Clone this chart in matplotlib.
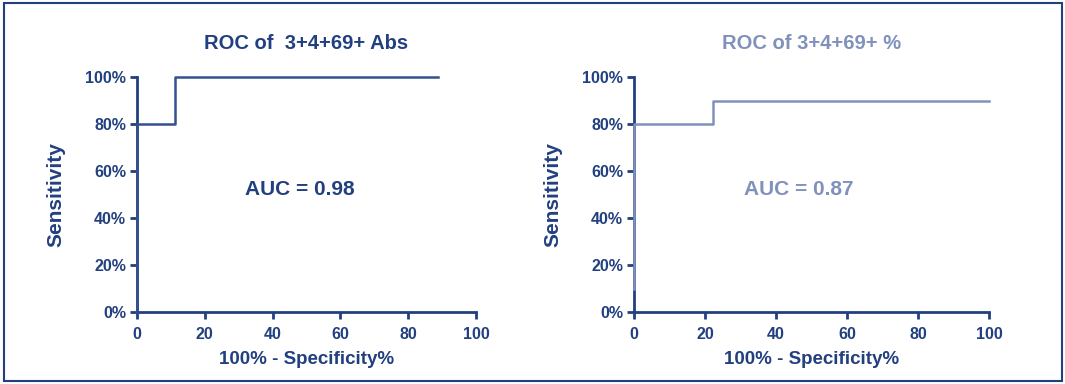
import matplotlib
matplotlib.use("Agg")
import matplotlib.pyplot as plt
from matplotlib.patches import Rectangle
from matplotlib.ticker import FuncFormatter

plt.rcParams['font.family'] = ['Liberation Sans', 'DejaVu Sans']
plt.rcParams['font.weight'] = 'bold'

# ROC curve of the absolute counts
abs_fpr = [0, 0, 11.1, 11.1, 88.9]
abs_sens = [0, 80, 80, 100, 100]
abs_auc = 0.98

# ROC curve of the percentages
pct_fpr = [0, 0, 22.2, 22.2, 100]
pct_sens = [10, 80, 80, 90, 90]
pct_auc = 0.87

titles = ["ROC of  3+4+69+ Abs", "ROC of 3+4+69+ %"]
x_ticks = [0, 20, 40, 60, 80, 100]
y_ticks = [0, 20, 40, 60, 80, 100]

navy = "#22407f"
dark_line = "#34508f"
light_line = "#8091bc"

fig = plt.figure(figsize=(10.65, 3.84), dpi=100)

# frame around the whole picture
fig.patches.append(Rectangle((4 / 1065, 3 / 384), 1058 / 1065, 378 / 384,
                             transform=fig.transFigure, fill=False,
                             edgecolor=navy, linewidth=1.5))

ax1 = fig.add_axes([137 / 1065, 1 - 312 / 384, 339 / 1065, 235 / 384])
ax2 = fig.add_axes([634 / 1065, 1 - 312 / 384, 355 / 1065, 235 / 384])

panels = [
    (ax1, abs_fpr, abs_sens, abs_auc, titles[0], dark_line, navy, (0.32, 0.52)),
    (ax2, pct_fpr, pct_sens, pct_auc, titles[1], light_line, light_line, (0.31, 0.52)),
]

for ax, xs, ys, auc, title, line_c, text_c, auc_pos in panels:
    ax.plot(xs, ys, color=line_c, linewidth=1.8, clip_on=False, zorder=3)
    ax.set_xlim(0, 100)
    ax.set_ylim(0, 100)
    ax.set_xticks(x_ticks)
    ax.set_yticks(y_ticks)
    ax.yaxis.set_major_formatter(FuncFormatter(lambda v, p: "%d%%" % v))
    for side in ["top", "right"]:
        ax.spines[side].set_visible(False)
    for side in ["left", "bottom"]:
        ax.spines[side].set_color(navy)
        ax.spines[side].set_linewidth(2)
    ax.tick_params(direction="out", length=5, width=2, color=navy,
                   labelcolor=navy, labelsize=11.5, pad=3)
    ax.tick_params(axis="x", pad=6)
    for lab in ax.get_xticklabels() + ax.get_yticklabels():
        lab.set_fontweight("bold")
    ax.set_xlabel("100% - Specificity%", color=navy, fontsize=13.5,
                  fontweight="bold", labelpad=6)
    ax.set_ylabel("Sensitivity", color=navy, fontsize=15,
                  fontweight="bold", labelpad=14)
    ax.set_title(title, color=text_c, fontsize=14.5, fontweight="bold", pad=20)
    ax.text(auc_pos[0], auc_pos[1], "AUC = %.2f" % auc, transform=ax.transAxes,
            color=text_c, fontsize=15, fontweight="bold", va="center")

fig.savefig("out.png", dpi=100)
